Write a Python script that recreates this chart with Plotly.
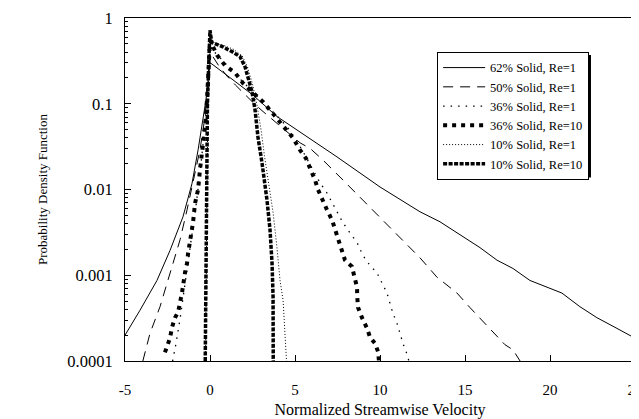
import plotly.graph_objects as go

# ---- data ----
x_62 = [-5.0, -4.12, -3.12, -2.35, -1.59, -1.06, -0.70, -0.41, -0.24, 0.0, 0.12, 1.35, 2.53, 3.94, 5.29,
        7.47, 10.0, 12.35, 13.53, 14.88, 15.88, 16.88, 17.82, 18.82, 20.7, 21.76, 22.76, 23.94, 24.88, 25.0]
y_62 = [2.0e-4, 3.9e-4, 8.7e-4, 1.95e-3, 4.8e-3, 0.0117, 0.029, 0.065, 0.11, 0.30, 0.29, 0.19, 0.126, 0.071, 0.047,
        0.024, 0.0107, 0.0055, 0.0042, 0.0028, 0.0021, 0.0015, 0.0012, 8.7e-4, 6.2e-4, 4.3e-4, 3.2e-4, 2.4e-4, 1.9e-4, 1.8e-4]

x_50 = [-3.95, -3.53, -2.94, -2.35, -1.76, -1.35, -1.0, -0.59, -0.29, 0.0, 0.5, 1.0, 1.5, 2.0, 2.5, 3.0, 3.5, 4.0,
        4.6, 5.3, 5.9, 6.65, 7.82, 8.82, 10.0, 11.18, 12.35, 13.35, 14.53, 15.29, 16.29, 17.06, 17.35, 17.82, 18.24]
y_50 = [1.0e-4, 2.1e-4, 4.3e-4, 1.07e-3, 2.6e-3, 5.8e-3, 0.0117, 0.029, 0.071, 0.40, 0.28, 0.21, 0.165, 0.13, 0.105,
        0.085, 0.07, 0.057, 0.045, 0.035, 0.030, 0.022, 0.0129, 0.0081, 0.0048, 0.0027, 0.0016, 9.5e-4, 6.2e-4,
        4.2e-4, 2.6e-4, 1.8e-4, 1.55e-4, 1.35e-4, 1.0e-4]

x_36_1 = [-2.2, -2.0, -1.75, -1.5, -1.25, -1.0, -0.8, -0.6, -0.4, -0.2, 0.0, 0.5, 1.0, 1.5, 2.0, 2.5, 3.0, 3.5, 4.0,
          4.5, 5.0, 5.5, 6.0, 6.47, 6.88, 7.47, 7.82, 8.24, 8.65, 9.0, 9.41, 9.82, 10.12, 10.41, 10.76, 11.0, 11.18,
          11.35, 11.59, 11.7]
y_36_1 = [1.0e-4, 1.6e-4, 3.2e-4, 7.0e-4, 1.6e-3, 3.5e-3, 7.0e-3, 0.015, 0.035, 0.10, 0.45, 0.36, 0.28, 0.22, 0.175,
          0.14, 0.11, 0.088, 0.07, 0.055, 0.04, 0.027, 0.018, 0.012, 0.0091, 0.0054, 0.0041, 0.0031, 0.0024, 0.0017,
          0.0013, 0.00107, 8.1e-4, 6.2e-4, 3.6e-4, 2.75e-4, 2.1e-4, 1.6e-4, 1.2e-4, 1.0e-4]

x_36_10 = [-2.65, -2.35, -2.24, -2.06, -1.88, -1.65, -1.47, -1.35, -1.29, -1.18, -1.0, -0.88, -0.70, -0.59, -0.47,
           -0.41, -0.29, -0.18, 0.0, 0.41, 0.88, 1.47, 1.94, 2.53, 3.12, 3.65, 4.0, 4.47, 4.88, 5.29, 5.65, 5.88, 6.18,
           6.35, 6.59, 6.88, 7.18, 7.35, 7.53, 7.76, 7.94, 8.35, 8.53, 8.65, 8.66, 8.71, 8.94, 9.24, 9.41, 9.71, 9.88,
           9.94]
y_36_10 = [1.26e-4, 1.86e-4, 2.45e-4, 3.2e-4, 3.7e-4, 6.2e-4, 1.07e-3, 1.38e-3, 1.8e-3, 2.4e-3, 4.1e-3, 6.9e-3,
           0.010, 0.017, 0.026, 0.036, 0.054, 0.11, 0.55, 0.37, 0.28, 0.23, 0.174, 0.135, 0.105, 0.079, 0.065, 0.052,
           0.040, 0.029, 0.023, 0.0178, 0.0129, 0.010, 0.0076, 0.0058, 0.0044, 0.0034, 0.0026, 0.0019, 0.0015,
           0.00126, 9.5e-4, 7.2e-4, 5.6e-4, 4.2e-4, 3.2e-4, 2.4e-4, 1.9e-4, 1.6e-4, 1.29e-4, 1.0e-4]

x_10_1 = [-0.26, -0.23, -0.18, -0.12, -0.04, 0.0, 0.3, 0.8, 1.4, 1.9, 2.2, 2.5, 2.75, 3.0, 3.2, 3.41, 3.71, 3.94,
          4.12, 4.3, 4.41, 4.47, 4.5]
y_10_1 = [1.0e-4, 1.0e-3, 0.01, 0.1, 0.35, 0.60, 0.50, 0.48, 0.43, 0.36, 0.27, 0.17, 0.10, 0.05, 0.025, 0.0129,
          0.0054, 0.0021, 8.7e-4, 5.1e-4, 2.3e-4, 1.1e-4, 1.0e-4]

x_10_10 = [-0.28, -0.25, -0.20, -0.15, -0.05, 0.0, 0.1, 0.76, 1.35, 1.76, 2.06, 2.24, 2.47, 2.65, 2.82, 3.06, 3.24,
           3.35, 3.53, 3.65, 3.71, 3.71, 3.72]
y_10_10 = [1.0e-4, 1.0e-3, 0.01, 0.1, 0.4, 0.72, 0.52, 0.46, 0.40, 0.355, 0.27, 0.20, 0.138, 0.085, 0.041, 0.0204,
           0.011, 0.0076, 0.0034, 0.00138, 5.6e-4, 2.3e-4, 1.0e-4]

names = ["62% Solid, Re=1", "50% Solid, Re=1", "36% Solid, Re=1", "36% Solid, Re=10",
         "10% Solid, Re=1", "10% Solid, Re=10"]

x_ticks = [-5, 0, 5, 10, 15, 20, 25]
x_tick_labels = ["-5", "0", "5", "10", "15", "20", "25"]
y_ticks = [1e-4, 1e-3, 1e-2, 1e-1, 1]
y_tick_labels = ["0.0001", "0.001", "0.01", "0.1", "1"]

# ---- styling ----
FONT = "Liberation Serif, Times New Roman, serif"
styles = [
    dict(color="black", width=1.0, dash="solid"),
    dict(color="black", width=1.0, dash="10px,7px"),
    dict(color="black", width=1.3, dash="1.5px,6px"),
    dict(color="black", width=4.0, dash="4px,5px"),
    dict(color="black", width=1.0, dash="1px,2px"),
    dict(color="black", width=3.5, dash="4px,1.5px"),
]
series = [(x_62, y_62), (x_50, y_50), (x_36_1, y_36_1), (x_36_10, y_36_10), (x_10_1, y_10_1), (x_10_10, y_10_10)]

fig = go.Figure()
for (xs, ys), nm, st in zip(series, names, styles):
    fig.add_trace(go.Scatter(x=xs, y=ys, mode="lines", name=nm, line=st))

minor_vals = [m * 10.0 ** e for e in range(-4, 0) for m in range(2, 10)]

# page body has an 8px default margin, so the figure is 8px smaller
W, H = 631, 411
ML, MR, MT, MB = 117, 4, 10, 58

fig.update_layout(
    width=W, height=H,
    margin=dict(l=ML, r=MR, t=MT, b=MB, autoexpand=False),
    paper_bgcolor="white", plot_bgcolor="white",
    font=dict(family=FONT, color="black", size=15),
    showlegend=True,
    legend=dict(
        x=0.612, y=0.901, xanchor="left", yanchor="top",
        bgcolor="white", bordercolor="black", borderwidth=1,
        font=dict(family=FONT, size=12.5, color="black"),
        itemwidth=42, tracegroupgap=0,
    ),
    # drop shadow behind the legend box
    shapes=[dict(type="rect", xref="paper", yref="paper",
                 x0=0.6157, x1=0.9137, y0=0.535, y1=0.892,
                 fillcolor="black", line=dict(width=0), layer="above")],
    xaxis=dict(
        range=[-5, 25], tickmode="array", tickvals=x_ticks, ticktext=x_tick_labels,
        ticks="inside", ticklen=6, tickcolor="black", showgrid=False, zeroline=False,
        showline=True, linecolor="black", linewidth=1, mirror=True,
        ticklabelstandoff=15, ticklabeloverflow="allow",
        tickfont=dict(family=FONT, size=15),
        title=dict(text="Normalized Streamwise Velocity", font=dict(family=FONT, size=16), standoff=15),
    ),
    yaxis=dict(
        type="log", range=[-4, 0], tickmode="array", tickvals=y_ticks, ticktext=y_tick_labels,
        ticks="inside", ticklen=6, tickcolor="black", showgrid=False, zeroline=False,
        showline=True, linecolor="black", linewidth=1, mirror=True,
        ticklabelstandoff=8, ticklabeloverflow="allow",
        tickfont=dict(family=FONT, size=16.5),
        minor=dict(tickmode="array", tickvals=minor_vals, ticks="inside", ticklen=3,
                   tickcolor="black", showgrid=False),
        title=dict(text="Probability Density Function", font=dict(family=FONT, size=13), standoff=16),
    ),
)

fig.write_html("out.html")
